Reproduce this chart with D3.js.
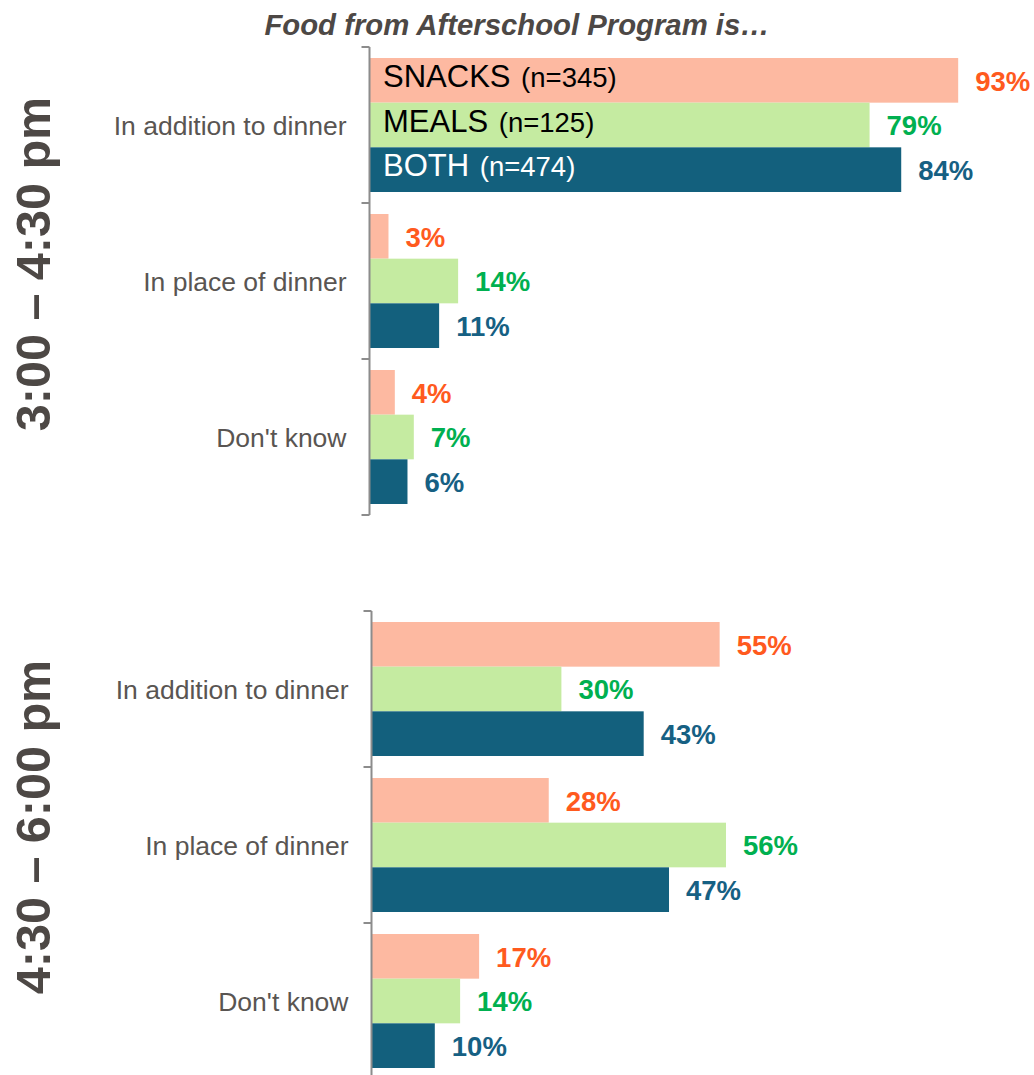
<!DOCTYPE html>
<html>
<head>
<meta charset="utf-8">
<script src="https://cdn.jsdelivr.net/npm/d3@7"></script>
<style>
  html, body { margin: 0; padding: 0; background: #fff; }
  svg { display: block; font-family: "Liberation Sans", Arial, sans-serif; }
</style>
</head>
<body>
<svg id="chart" width="1034" height="1075"></svg>
<script>
// Answer categories (shared by both time windows)
const categories = ["In addition to dinner", "In place of dinner", "Don't know"];
// Program types and their sample sizes
const series = ["SNACKS", "MEALS", "BOTH"];
const seriesN = [345, 125, 474];
// Percent of respondents, 3:00 – 4:30 pm
const earlySnacks = [93, 3, 4];
const earlyMeals = [79, 14, 7];
const earlyBoth = [84, 11, 6];
// Percent of respondents, 4:30 – 6:00 pm
const lateSnacks = [55, 28, 17];
const lateMeals = [30, 56, 14];
const lateBoth = [43, 47, 10];

const panelTitles = ["3:00 – 4:30 pm", "4:30 – 6:00 pm"];
const chartTitle = "Food from Afterschool Program is…";

const barFill = { SNACKS: "#FDB9A1", MEALS: "#C5EBA1", BOTH: "#13607D" };
const labelFill = { SNACKS: "#FF5A1E", MEALS: "#00B050", BOTH: "#166083" };
const nameFill = { SNACKS: "#000", MEALS: "#000", BOTH: "#fff" };

const panels = [
  { title: panelTitles[0], values: [earlySnacks, earlyMeals, earlyBoth], x0: 369.5, y0: 47, titleY: 264, legend: true },
  { title: panelTitles[1], values: [lateSnacks, lateMeals, lateBoth], x0: 371.5, y0: 611, titleY: 827, legend: false }
];

const svg = d3.select("#chart");

svg.append("text")
  .attr("x", 517).attr("y", 35)
  .attr("text-anchor", "middle")
  .attr("font-size", 29.3).attr("font-weight", "bold").attr("font-style", "italic")
  .attr("fill", "#4D4845")
  .text(chartTitle);

const x = d3.scaleLinear().domain([0, 100]).range([0, 633]);
const step = 156;
const y = d3.scaleBand().domain(categories).range([0, step * categories.length])
  .paddingInner(22 / step).paddingOuter(11 / step);
const ySeries = d3.scaleBand().domain(series).range([0, y.bandwidth()]);

panels.forEach(p => {
  const g = svg.append("g").attr("transform", `translate(${p.x0},${p.y0})`);

  // rows of data: one record per category × series
  const rows = [];
  categories.forEach((c, ci) => {
    series.forEach((s, si) => rows.push({ cat: c, ser: s, v: p.values[si][ci] }));
  });

  g.selectAll("rect.bar").data(rows).join("rect")
    .attr("class", "bar")
    .attr("x", 0)
    .attr("y", d => y(d.cat) + ySeries(d.ser))
    .attr("width", d => x(d.v))
    .attr("height", ySeries.bandwidth())
    .attr("fill", d => barFill[d.ser]);

  g.selectAll("text.val").data(rows).join("text")
    .attr("class", "val")
    .attr("x", d => x(d.v) + 17)
    .attr("y", d => y(d.cat) + ySeries(d.ser) + ySeries.bandwidth() / 2)
    .attr("dy", "0.37em")
    .attr("font-size", 27.5).attr("font-weight", "bold")
    .attr("fill", d => labelFill[d.ser])
    .text(d => d.v + "%");

  // category labels
  g.selectAll("text.cat").data(categories).join("text")
    .attr("class", "cat")
    .attr("x", -23)
    .attr("y", d => y(d) + y.bandwidth() / 2)
    .attr("dy", "0.37em")
    .attr("text-anchor", "end")
    .attr("font-size", 26.5)
    .attr("fill", "#595552")
    .text(d => d);

  // axis line with ticks at category boundaries
  const bounds = d3.range(categories.length + 1).map(i => i * y.step());
  g.append("line")
    .attr("x1", 0).attr("x2", 0)
    .attr("y1", bounds[0]).attr("y2", bounds[bounds.length - 1])
    .attr("stroke", "#8C8C8C").attr("stroke-width", 2);
  g.selectAll("line.tick").data(bounds).join("line")
    .attr("class", "tick")
    .attr("x1", -8).attr("x2", 0)
    .attr("y1", d => d).attr("y2", d => d)
    .attr("stroke", "#8C8C8C").attr("stroke-width", 2);

  // series names inside the first group of bars
  if (p.legend) {
    series.forEach((s, si) => {
      const t = g.append("text")
        .attr("x", 13.5)
        .attr("y", y(categories[0]) + ySeries(s) + ySeries.bandwidth() / 2)
        .attr("dy", "0.42em")
        .attr("fill", nameFill[s]);
      t.append("tspan").attr("font-size", 31).text(s);
      t.append("tspan").attr("font-size", 27.5).attr("dx", 3).text(" (n=" + seriesN[si] + ")");
    });
  }

  svg.append("text")
    .attr("transform", `translate(50,${p.titleY}) rotate(-90)`)
    .attr("text-anchor", "middle")
    .attr("font-size", 48.5).attr("font-weight", "bold")
    .attr("fill", "#4D4845")
    .text(p.title);
});
</script>
</body>
</html>
